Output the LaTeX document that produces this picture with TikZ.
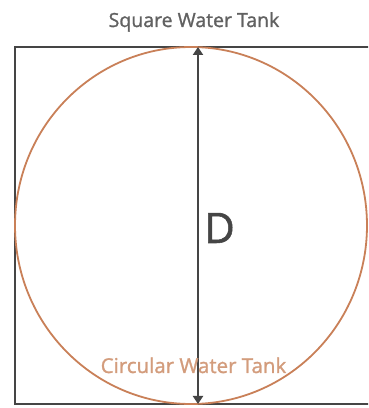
\documentclass[tikz,border=0pt]{standalone}
\usepackage{fontspec}
\setmainfont{Open Sans}[FakeBold=1.2]
\usetikzlibrary{arrows.meta,shapes.geometric}
\definecolor{tankgray}{HTML}{454545}
\definecolor{tankorange}{HTML}{C98058}
\definecolor{labelorange}{HTML}{D39C7C}
\tikzset{
  tankbox/.style={draw=tankgray, line width=2.6pt, minimum width=357pt, minimum height=357pt, inner sep=0pt},
  tankcircle/.style={ellipse, draw=tankorange, line width=1.8pt, minimum width=352pt, minimum height=357pt, inner sep=0pt},
  dimarrow/.style={draw=tankgray, line width=2.4pt, {Triangle[length=8pt,width=10pt]}-{Triangle[length=8pt,width=10pt]}}
}
\begin{document}
\begin{tikzpicture}[x=1pt,y=1pt]
\useasboundingbox (0,0) rectangle (368,408);
\clip (0,0) rectangle (368,408);
\fill[white] (0,0) rectangle (368,408);
\node[tankbox] (sq) at (193.5,182.5) {};
\node[tankcircle] (circ) at (191,182.5) {};
\coordinate (top) at (198,361);
\coordinate (bot) at (198,4);
\draw[dimarrow] (bot) -- (top);
\node[text=tankgray!85, font=\fontsize{19.5}{23}\selectfont, inner sep=0pt, anchor=base] (title) at (194,381) {Square Water Tank};
\node[text=labelorange, font=\fontsize{20.5}{24}\selectfont, inner sep=0pt, anchor=base] (clabel) at (193.5,35) {Circular Water Tank};
\node[text=tankgray, font=\fontsize{42}{48}\selectfont, inner sep=0pt, anchor=base] (dlabel) at (219.5,165) {D};
\end{tikzpicture}
\end{document}
